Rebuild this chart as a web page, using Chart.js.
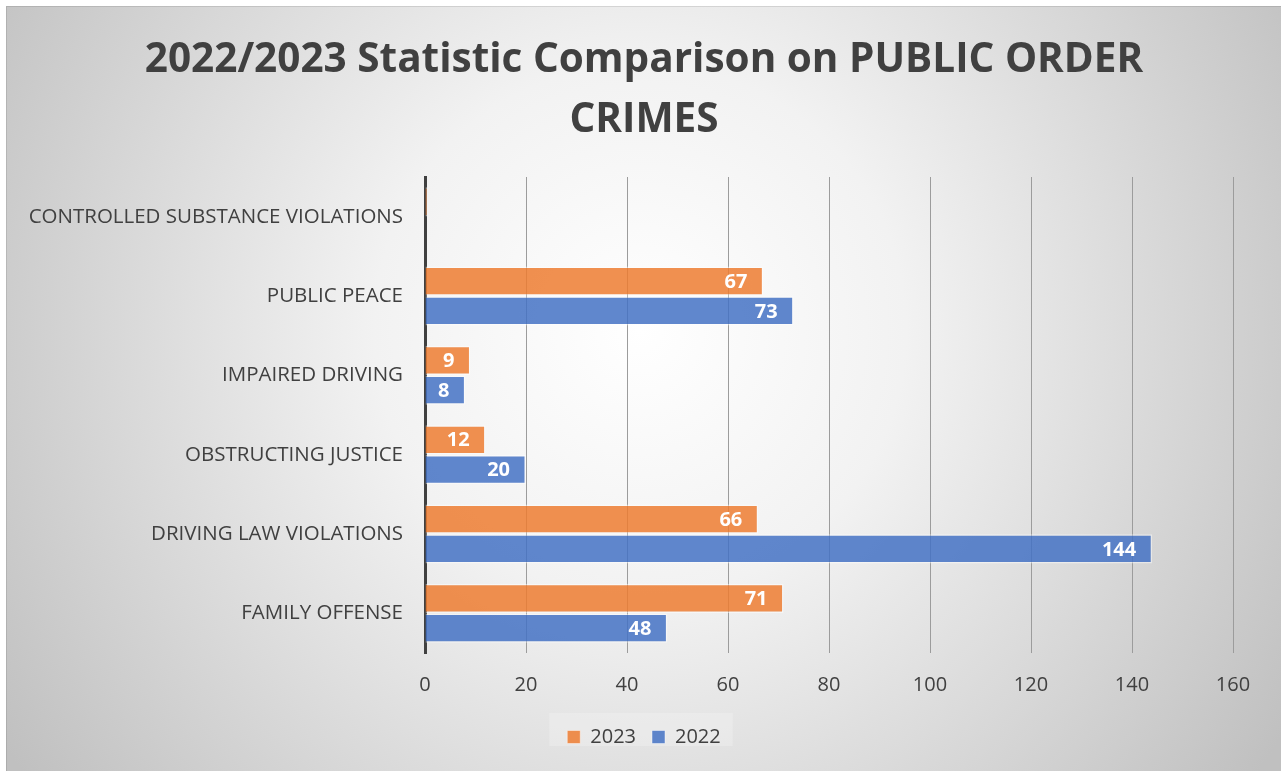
<!DOCTYPE html>
<html>
<head>
<meta charset="utf-8">
<script src="https://cdn.jsdelivr.net/npm/chart.js@4/dist/chart.umd.min.js"></script>
<style>
  html, body { margin: 0; padding: 0; background: #ffffff; }
  #wrap { width: 1281px; height: 771px; position: relative; }
</style>
</head>
<body>
<div id="wrap"><canvas id="chart"></canvas></div>
<script>
// Crime categories, top to bottom
const categories = [
  'CONTROLLED SUBSTANCE VIOLATIONS',
  'PUBLIC PEACE',
  'IMPAIRED DRIVING',
  'OBSTRUCTING JUSTICE',
  'DRIVING LAW VIOLATIONS',
  'FAMILY OFFENSE'
];
const values2023 = [0.5, 67, 9, 12, 66, 71];
const values2022 = [null, 73, 8, 20, 144, 48];
const seriesNames = ['2023', '2022'];
const titleLines = ['2022/2023 Statistic Comparison on PUBLIC ORDER', 'CRIMES'];
const axisMax = 160;
const axisStep = 20;

const FONT = "'Open Sans', 'Noto Sans', sans-serif";

// Title and legend are centred a little right of the canvas middle
const centreShift = {
  id: 'centreShift',
  afterLayout(chart) {
    if (chart.titleBlock) chart.titleBlock.left += 55;
    if (chart.legend) chart.legend.left += 55;
  }
};

// Grey radial backdrop behind the whole chart
const backdrop = {
  id: 'backdrop',
  beforeDraw(chart) {
    const ctx = chart.ctx;
    const W = chart.width, H = chart.height;
    ctx.save();
    ctx.fillStyle = '#ffffff';
    ctx.fillRect(0, 0, W, H);
    const g = ctx.createRadialGradient(640, 330, 0, 640, 330, 760);
    g.addColorStop(0, '#ffffff');
    g.addColorStop(0.35, '#f2f2f2');
    g.addColorStop(1, '#c0c0c0');
    ctx.fillStyle = g;
    ctx.fillRect(6, 6, W - 6, H - 6);
    ctx.strokeStyle = 'rgba(0,0,0,0.10)';
    ctx.lineWidth = 1;
    ctx.strokeRect(6.5, 6.5, W - 6, H - 6);
    // soft panel behind the legend
    const lg = chart.legend;
    if (lg && lg.lineWidths && lg.lineWidths.length) {
      const w = lg.lineWidths[0];
      const cx = (lg.left + lg.right) / 2;
      const x0 = cx - w / 2 - 10;
      const x1 = cx + w / 2 + 4;
      ctx.fillStyle = 'rgba(255,255,255,0.22)';
      ctx.fillRect(x0, 713, x1 - x0, 33);
    }
    ctx.restore();
  }
};

// Value labels inside the end of each bar
const barValues = {
  id: 'barValues',
  afterDatasetsDraw(chart) {
    const ctx = chart.ctx;
    ctx.save();
    ctx.font = "bold 20px " + FONT;
    ctx.fillStyle = '#ffffff';
    ctx.textAlign = 'right';
    ctx.textBaseline = 'middle';
    chart.data.datasets.forEach((ds, i) => {
      const meta = chart.getDatasetMeta(i);
      meta.data.forEach((bar, j) => {
        const v = ds.data[j];
        if (v === null || v < 1) return;
        ctx.fillText(String(v), bar.x - 16, bar.y + 1);
      });
    });
    ctx.restore();
  }
};

new Chart(document.getElementById('chart'), {
  type: 'bar',
  data: {
    labels: categories,
    datasets: [
      {
        label: seriesNames[0],
        data: values2023,
        backgroundColor: 'rgba(237,125,49,0.85)',
        borderColor: 'rgba(255,255,255,0.45)',
        borderWidth: 1.5,
        categoryPercentage: 0.75,
        barPercentage: 0.985
      },
      {
        label: seriesNames[1],
        data: values2022,
        backgroundColor: 'rgba(68,114,196,0.85)',
        borderColor: 'rgba(255,255,255,0.45)',
        borderWidth: 1.5,
        categoryPercentage: 0.75,
        barPercentage: 0.985
      }
    ]
  },
  options: {
    indexAxis: 'y',
    responsive: true,
    maintainAspectRatio: false,
    animation: false,
    layout: { padding: { left: 0, right: 48, top: 0, bottom: 14 } },
    plugins: {
      title: {
        display: true,
        text: titleLines,
        color: '#404040',
        font: { family: FONT, size: 40.5, weight: 'bold', lineHeight: 60 / 40.5 },
        padding: { top: 30, bottom: 27 }
      },
      legend: {
        display: true,
        position: 'bottom',
        labels: {
          color: '#404040',
          font: { family: FONT, size: 20 },
          boxWidth: 13,
          boxHeight: 13,
          padding: 16,
          generateLabels(chart) {
            return chart.data.datasets.map((ds, i) => ({
              text: ds.label,
              fillStyle: ds.backgroundColor,
              strokeStyle: 'rgba(255,255,255,0.45)',
              lineWidth: 1,
              fontColor: '#404040',
              hidden: false,
              datasetIndex: i
            }));
          }
        }
      },
      tooltip: { enabled: false }
    },
    scales: {
      x: {
        min: 0,
        max: axisMax,
        ticks: {
          stepSize: axisStep,
          color: '#404040',
          font: { family: FONT, size: 20 },
          padding: 20
        },
        grid: { color: '#9c9c9c', lineWidth: 1, drawTicks: false },
        border: { display: false },
        afterFit(scale) { scale.height = 58; }
      },
      y: {
        ticks: {
          color: '#404040',
          font: { family: FONT, size: 20.5 },
          padding: 22
        },
        grid: { display: false, drawTicks: false },
        border: { display: true, color: '#404040', width: 3 },
        afterFit(scale) { scale.width = 425; }
      }
    }
  },
  plugins: [centreShift, backdrop, barValues]
});
</script>
</body>
</html>
